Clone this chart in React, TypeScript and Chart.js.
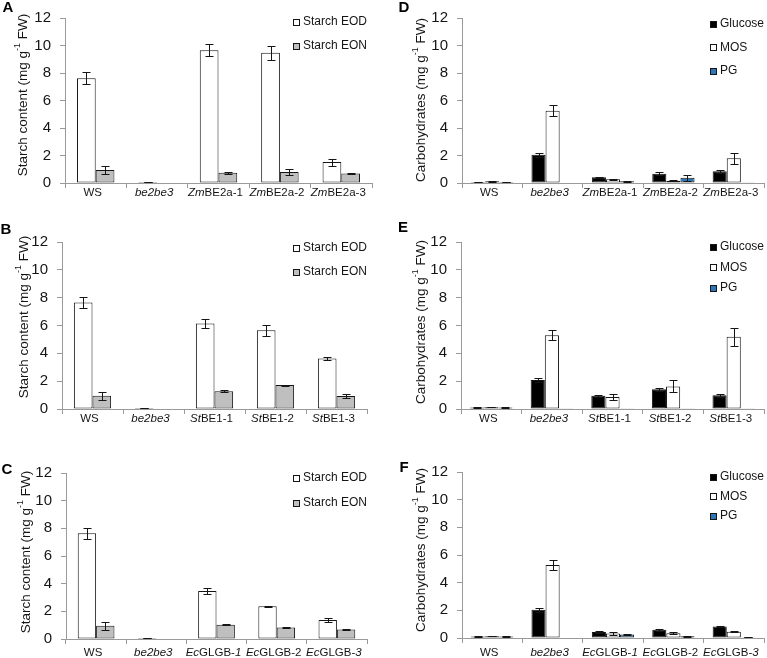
import { useEffect, useRef } from "react";
import { Chart, registerables } from "chart.js";
Chart.register(...registerables);

const FONT = "'Liberation Sans', Arial, sans-serif";
const TEXT = "#151515";
const AXIS = "#9a9a9a";
const EDGE = "#151515";

// Category tick labels (text between underscores is italic)
const catsA = ["WS", "_be2be3_", "_Zm_BE2a-1", "_Zm_BE2a-2", "_Zm_BE2a-3"];
const catsB = ["WS", "_be2be3_", "_St_BE1-1", "_St_BE1-2", "_St_BE1-3"];
const catsC = ["WS", "_be2be3_", "_Ec_GLGB-_1_", "_Ec_GLGB-2", "_Ec_GLGB-_3_"];

const starchSeries = ["Starch EOD", "Starch EON"];
const carbSeries = ["Glucose", "MOS", "PG"];
const starchColors = ["#ffffff", "#bfbfbf"];
const carbColors = ["#000000", "#ffffff", "#2e75b6"];

const yTicks = [0, 2, 4, 6, 8, 10, 12];

// Panel A
const eodA = [7.62, 0.08, 9.66, 9.48, 1.52];
const eodAErr = [0.42, 0.02, 0.45, 0.5, 0.26];
const eonA = [0.94, 0, 0.74, 0.8, 0.69];
const eonAErr = [0.3, 0, 0.07, 0.22, 0.06];
// Panel B
const eodB = [7.65, 0.08, 6.15, 5.65, 3.62];
const eodBErr = [0.42, 0.02, 0.33, 0.42, 0.13];
const eonB = [0.95, 0, 1.27, 1.72, 0.94];
const eonBErr = [0.3, 0, 0.06, 0.04, 0.12];
// Panel C
const eodC = [7.64, 0.08, 3.47, 2.36, 1.38];
const eodCErr = [0.42, 0.02, 0.22, 0.06, 0.13];
const eonC = [0.95, 0, 1.03, 0.84, 0.68];
const eonCErr = [0.3, 0, 0.03, 0.06, 0.04];
// Panel D
const glcD = [0.08, 2.05, 0.42, 0.68, 0.86];
const glcDErr = [0.02, 0.15, 0.05, 0.12, 0.1];
const mosD = [0.12, 5.26, 0.27, 0.17, 1.8];
const mosDErr = [0.02, 0.38, 0.03, 0.03, 0.4];
const pgD = [0.08, 0.03, 0.13, 0.38, 0.02];
const pgDErr = [0.02, 0, 0.03, 0.2, 0];
// Panel E
const glcE = [0.1, 2.08, 0.95, 1.42, 0.98];
const glcEErr = [0.02, 0.15, 0.07, 0.1, 0.13];
const mosE = [0.13, 5.3, 0.86, 1.62, 5.2];
const mosEErr = [0.02, 0.35, 0.22, 0.43, 0.65];
const pgE = [0.1, 0.05, 0.02, 0.02, 0.05];
const pgEErr = [0.02, 0, 0, 0, 0];
// Panel F
const glcF = [0.1, 2.05, 0.43, 0.6, 0.84];
const glcFErr = [0.02, 0.15, 0.1, 0.06, 0.05];
const mosF = [0.13, 5.28, 0.32, 0.35, 0.45];
const mosFErr = [0.02, 0.38, 0.12, 0.07, 0.03];
const pgF = [0.1, 0.04, 0.25, 0.12, 0.06];
const pgFErr = [0.02, 0, 0.04, 0.03, 0.01];

const starchTitle = ["Starch content (mg g", "-1", " FW)"];
const carbTitle = ["Carbohydrates (mg g", "-1", " FW)"];

type Panel = {
  letter: string;
  left: number; top: number; w: number; h: number;
  axisX: number; topY: number; bottomY: number; rightX: number;
  cats: string[]; series: string[]; colors: string[];
  values: number[][]; errors: number[][];
  title: string[]; titleX: number; titleY: number;
  catPct: number;
  legendRight: number; legendTop: number; legendGap: number;
  letterX: number; letterY: number;
  labelOffset: number;
};

const panels: Panel[] = [
  {
    letter: "A", left: 0, top: 0, w: 383, h: 210,
    axisX: 65, topY: 17, bottomY: 183, rightX: 372,
    cats: catsA, series: starchSeries, colors: starchColors,
    values: [eodA, eonA], errors: [eodAErr, eonAErr],
    title: starchTitle, titleX: 23, titleY: 95, catPct: 0.61,
    legendRight: 367, legendTop: 4, legendGap: 24,
    letterX: 8, letterY: 8, labelOffset: 10,
  },
  {
    letter: "D", left: 383, top: 0, w: 384, h: 210,
    axisX: 79, topY: 17, bottomY: 183, rightX: 381,
    cats: catsA, series: carbSeries, colors: carbColors,
    values: [glcD, mosD, pgD], errors: [glcDErr, mosDErr, pgDErr],
    title: carbTitle, titleX: 38, titleY: 100, catPct: 0.7,
    legendRight: 381, legendTop: 6, legendGap: 23.5,
    letterX: 21, letterY: 8, labelOffset: 10,
  },
  {
    letter: "B", left: 0, top: 210, w: 383, h: 220,
    axisX: 62, topY: 32, bottomY: 199, rightX: 367,
    cats: catsB, series: starchSeries, colors: starchColors,
    values: [eodB, eonB], errors: [eodBErr, eonBErr],
    title: starchTitle, titleX: 24, titleY: 107, catPct: 0.61,
    legendRight: 367, legendTop: 6, legendGap: 24,
    letterX: 6, letterY: 20, labelOffset: 10,
  },
  {
    letter: "E", left: 383, top: 210, w: 384, h: 220,
    axisX: 78, topY: 32, bottomY: 199, rightX: 381,
    cats: catsB, series: carbSeries, colors: carbColors,
    values: [glcE, mosE, pgE], errors: [glcEErr, mosEErr, pgEErr],
    title: carbTitle, titleX: 38, titleY: 112, catPct: 0.7,
    legendRight: 381, legendTop: 5, legendGap: 20.5,
    letterX: 20, letterY: 18, labelOffset: 10,
  },
  {
    letter: "C", left: 0, top: 430, w: 383, h: 228,
    axisX: 66, topY: 43, bottomY: 209, rightX: 367,
    cats: catsC, series: starchSeries, colors: starchColors,
    values: [eodC, eonC], errors: [eodCErr, eonCErr],
    title: starchTitle, titleX: 26, titleY: 122, catPct: 0.61,
    legendRight: 367, legendTop: 5, legendGap: 25,
    letterX: 7, letterY: 40, labelOffset: 14,
  },
  {
    letter: "F", left: 383, top: 430, w: 384, h: 228,
    axisX: 79, topY: 42, bottomY: 208, rightX: 381,
    cats: catsC, series: carbSeries, colors: carbColors,
    values: [glcF, mosF, pgF], errors: [glcFErr, mosFErr, pgFErr],
    title: carbTitle, titleX: 38, titleY: 120, catPct: 0.7,
    legendRight: 381, legendTop: 5, legendGap: 19.5,
    letterX: 21, letterY: 38, labelOffset: 15,
  },
];

const plain = (s: string) => s.replace(/_/g, "");
const segments = (s: string) =>
  s.split("_").map((t, i) => ({ text: t, italic: i % 2 === 1 })).filter((x) => x.text.length > 0);

function makeDecor(p: Panel) {
  return {
    id: "decor" + p.letter,
    afterDatasetsDraw(chart: any) {
      const ctx: CanvasRenderingContext2D = chart.ctx;
      const ys = chart.scales.y;
      const xs = chart.scales.x;
      const area = chart.chartArea;
      ctx.save();
      // error bars
      ctx.strokeStyle = EDGE;
      ctx.lineWidth = 1;
      chart.data.datasets.forEach((ds: any, di: number) => {
        const meta = chart.getDatasetMeta(di);
        meta.data.forEach((el: any, i: number) => {
          const e = p.errors[di][i];
          if (!e) return;
          const v = ds.data[i] as number;
          const x = Math.round(el.x) + 0.5;
          const yt = Math.round(ys.getPixelForValue(v + e)) + 0.5;
          const yb = Math.round(ys.getPixelForValue(Math.max(0, v - e))) + 0.5;
          const cw = 4;
          ctx.beginPath();
          ctx.moveTo(x, yt); ctx.lineTo(x, yb);
          ctx.moveTo(x - cw, yt); ctx.lineTo(x + cw, yt);
          ctx.moveTo(x - cw, yb); ctx.lineTo(x + cw, yb);
          ctx.stroke();
        });
      });
      // x category labels
      ctx.fillStyle = TEXT;
      ctx.textBaseline = "middle";
      ctx.textAlign = "left";
      p.cats.forEach((c, i) => {
        const segs = segments(c);
        const widths = segs.map((s) => {
          ctx.font = `${s.italic ? "italic " : ""}11.5px ${FONT}`;
          return ctx.measureText(s.text).width;
        });
        const total = widths.reduce((a, b) => a + b, 0);
        let x = xs.getPixelForValue(i) - total / 2 - 3;
        const y = area.bottom + p.labelOffset;
        segs.forEach((s, k) => {
          ctx.font = `${s.italic ? "italic " : ""}11.5px ${FONT}`;
          ctx.fillText(s.text, x, y);
          x += widths[k];
        });
      });
      // legend
      ctx.font = `12px ${FONT}`;
      const lw = p.series.map((s) => ctx.measureText(s).width);
      const maxW = Math.max(...lw);
      const sq = 7, gap = 3;
      const lx = p.legendRight - maxW - gap - sq;
      p.series.forEach((s, k) => {
        const y = area.top + p.legendTop + k * p.legendGap;
        const sy = Math.round(y - sq / 2);
        ctx.fillStyle = p.colors[k];
        ctx.fillRect(Math.round(lx), sy, sq, sq);
        ctx.strokeStyle = EDGE;
        ctx.strokeRect(Math.round(lx) + 0.5, sy + 0.5, sq - 1, sq - 1);
        ctx.fillStyle = TEXT;
        ctx.textAlign = "left";
        ctx.textBaseline = "middle";
        ctx.fillText(s, Math.round(lx) + sq + gap, y);
      });
      // y title
      ctx.save();
      ctx.translate(p.titleX, p.titleY);
      ctx.rotate(-Math.PI / 2);
      const mainFont = `13.5px ${FONT}`;
      const supFont = `9px ${FONT}`;
      ctx.font = mainFont;
      const w0 = ctx.measureText(p.title[0]).width;
      const w2 = ctx.measureText(p.title[2]).width;
      ctx.font = supFont;
      const w1 = ctx.measureText(p.title[1]).width;
      let tx = -(w0 + w1 + w2) / 2;
      ctx.fillStyle = TEXT;
      ctx.textBaseline = "middle";
      ctx.textAlign = "left";
      ctx.font = mainFont;
      ctx.fillText(p.title[0], tx, 0);
      tx += w0;
      ctx.font = supFont;
      ctx.fillText(p.title[1], tx, -5);
      tx += w1;
      ctx.font = mainFont;
      ctx.fillText(p.title[2], tx, 0);
      ctx.restore();
      // panel letter
      ctx.font = `bold 15px ${FONT}`;
      ctx.fillStyle = "#000";
      ctx.textAlign = "center";
      ctx.textBaseline = "middle";
      ctx.fillText(p.letter, p.letterX, p.letterY);
      ctx.restore();
    },
  };
}

function PanelChart({ p }: { p: Panel }) {
  const ref = useRef<HTMLCanvasElement | null>(null);
  useEffect(() => {
    if (!ref.current) return;
    const chart = new Chart(ref.current, {
      type: "bar",
      data: {
        labels: p.cats.map(plain),
        datasets: p.series.map((s, k) => ({
          label: s,
          data: p.values[k],
          backgroundColor: p.colors[k],
          borderColor: EDGE,
          borderWidth: 1,
          borderSkipped: false,
          categoryPercentage: p.catPct,
          barPercentage: 1,
        })),
      },
      options: {
        animation: false,
        responsive: false,
        devicePixelRatio: 1,
        layout: { padding: { left: 0, top: p.topY, right: p.w - p.rightX, bottom: 0 } },
        plugins: { legend: { display: false }, tooltip: { enabled: false }, title: { display: false } },
        scales: {
          x: {
            type: "category",
            offset: true,
            grid: { offset: true, drawOnChartArea: false, drawTicks: true, tickLength: 5, color: AXIS },
            border: { display: true, color: AXIS },
            ticks: { display: false },
            afterFit: (s: any) => { s.height = p.h - p.bottomY; },
          },
          y: {
            min: 0,
            max: 12,
            afterBuildTicks: (s: any) => { s.ticks = yTicks.map((v) => ({ value: v })); },
            ticks: { font: { size: 15, family: FONT }, color: TEXT, padding: 9 },
            grid: { drawOnChartArea: false, drawTicks: true, tickLength: 5, color: AXIS },
            border: { display: true, color: AXIS },
            afterFit: (s: any) => { s.width = p.axisX; },
          },
        },
      } as any,
      plugins: [makeDecor(p)],
    });
    return () => chart.destroy();
  }, [p]);
  return (
    <canvas
      ref={ref}
      width={p.w}
      height={p.h}
      style={{ position: "absolute", left: p.left, top: p.top, width: p.w, height: p.h }}
    />
  );
}

export default function App() {
  return (
    <div style={{ position: "fixed", left: 0, top: 0, width: 767, height: 658, background: "#fff" }}>
      {panels.map((p) => (
        <PanelChart key={p.letter} p={p} />
      ))}
    </div>
  );
}
